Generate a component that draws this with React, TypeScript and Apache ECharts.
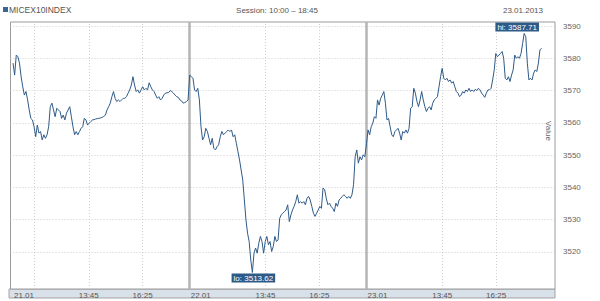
import React, { useEffect, useRef } from "react";
import * as echarts from "echarts";

// ---- data ----
const instrument = "MICEX10INDEX";
const sessionText = "Session: 10:00 – 18:45";
const dateText = "23.01.2013";

// minutes per session (10:00 - 18:45), sessions are drawn back to back
const sessionMinutes = 525;
const lastQuoteMinute = 520;

const day1Values = [
  3578.5, 3574.8, 3581.0, 3580.5, 3578.5, 3574.3, 3571.2, 3568.6, 3569.7, 3567.1,
  3564.0, 3561.4, 3560.9, 3558.8, 3555.7, 3559.3, 3556.8, 3557.3, 3554.7, 3556.3,
  3555.2, 3556.3, 3558.8, 3565.0, 3566.1, 3564.0, 3561.9, 3564.5, 3564.0, 3563.5,
  3561.4, 3562.4, 3560.9, 3563.0, 3564.0, 3565.0, 3561.9, 3558.8, 3556.3, 3557.3,
  3556.3, 3557.3, 3558.3, 3558.8, 3561.4, 3560.9, 3559.3, 3559.9, 3560.4, 3560.9,
  3561.0, 3561.2, 3561.3, 3561.4, 3561.5, 3561.7, 3562.0, 3562.4, 3564.0, 3565.0,
  3566.1, 3568.1, 3569.7, 3567.6, 3566.6, 3567.1, 3566.6, 3567.1, 3567.6, 3567.6,
  3568.1, 3569.2, 3570.2, 3571.7, 3574.3, 3571.7, 3569.7, 3570.2, 3569.2, 3570.2,
  3571.2, 3570.2, 3570.7, 3570.2, 3572.4, 3571.2, 3570.2, 3569.7, 3568.6, 3567.6,
  3568.1, 3567.1, 3567.6, 3568.6, 3569.2, 3569.3, 3569.4, 3570.0, 3569.7, 3569.2,
  3568.6, 3568.1, 3567.9, 3567.1, 3566.8, 3566.1, 3566.3, 3566.6, 3567.1,
];

const day2Values = [
  3574.8, 3574.3, 3573.8, 3570.2, 3569.7, 3570.7, 3567.1, 3558.8, 3554.7, 3555.7,
  3558.3, 3557.3, 3555.2, 3553.2, 3555.2, 3552.1, 3551.6, 3552.6, 3553.2, 3555.7,
  3557.3, 3556.3, 3556.8, 3557.3, 3557.8, 3557.3, 3557.8, 3555.7, 3556.3, 3553.7,
  3551.1, 3548.5, 3545.4, 3542.3, 3536.1, 3529.9, 3525.8, 3523.2, 3517.5, 3513.62,
  3519.6, 3521.2, 3519.6, 3522.7, 3524.8, 3523.2, 3519.6, 3523.2, 3524.8, 3522.2,
  3523.2, 3520.1, 3521.7, 3524.8, 3523.2, 3523.7, 3530.4, 3531.5, 3532.0, 3532.5,
  3533.0, 3534.6, 3529.4, 3531.5, 3533.0, 3534.1, 3535.6, 3537.7, 3535.1, 3535.6,
  3535.1, 3535.6, 3534.6, 3536.6, 3537.2, 3536.1, 3534.1, 3532.0, 3531.0, 3532.0,
  3533.0, 3534.1, 3533.5, 3539.8, 3539.3, 3536.6, 3534.6, 3535.1, 3534.1, 3533.5,
  3532.5, 3535.1, 3534.1, 3536.1, 3536.6, 3537.2, 3537.7, 3537.2, 3536.6, 3537.2,
  3536.6, 3537.7, 3540.8, 3549.5, 3551.6, 3547.5, 3549.5, 3548.5, 3550.1, 3549.5,
];

const day3Values = [
  3553.5, 3557.8, 3556.3, 3558.8, 3559.9, 3561.9, 3561.4, 3567.1, 3565.5, 3567.6,
  3568.6, 3569.7, 3566.1, 3560.9, 3561.4, 3558.8, 3556.3, 3555.7, 3557.3, 3557.8,
  3558.3, 3556.8, 3554.7, 3557.3, 3556.8, 3557.8, 3556.8, 3558.3, 3564.5, 3565.0,
  3570.7, 3569.2, 3566.6, 3565.0, 3567.1, 3569.7, 3567.1, 3565.0, 3563.5, 3564.5,
  3565.0, 3564.0, 3566.1, 3567.1, 3567.6, 3568.1, 3571.2, 3574.3, 3576.9, 3573.8,
  3573.3, 3573.8, 3572.8, 3573.3, 3572.3, 3572.8, 3571.2, 3569.7, 3569.2, 3568.1,
  3568.6, 3569.7, 3569.2, 3570.2, 3569.7, 3570.7, 3569.7, 3570.2, 3569.7, 3570.4,
  3570.0, 3570.7, 3570.2, 3569.2, 3568.6, 3567.9, 3569.2, 3570.2, 3570.2, 3570.7,
  3573.3, 3576.4, 3581.5, 3580.5, 3581.0, 3581.5, 3582.1, 3580.0, 3573.8, 3573.3,
  3574.3, 3572.8, 3574.8, 3576.4, 3581.0, 3580.0, 3580.5, 3580.0, 3581.5, 3584.6,
  3587.71, 3586.7, 3578.5, 3573.3, 3573.8, 3573.3, 3575.4, 3576.4, 3575.9, 3578.5,
  3582.6, 3583.1,
];

const days = [day1Values, day2Values, day3Values];

// x tick positions (session minutes) and their labels
const tickTimes = [0, 225, 385, 525, 750, 910, 1050, 1275, 1435];
const tickLabels = ["21.01", "13:45", "16:25", "22.01", "13:45", "16:25", "23.01", "13:45", "16:25"];
const dateTicks = ["21.01", "22.01", "23.01"];
// dotted vertical grid lines and session separators (session minutes)
const gridTimes = [64, 225, 385, 750, 910, 1275, 1435];
const separatorTimes = [525, 1050];
// y ticks
const yTicks = [3520, 3530, 3540, 3550, 3560, 3570, 3580, 3590];

const FONT = "Liberation Sans, Arial, sans-serif";
const LINE_COLOR = "#2e5a88";

export default function App() {
  const ref = useRef<HTMLDivElement>(null);

  useEffect(() => {
    if (!ref.current) return;
    const chart = echarts.init(ref.current, undefined, { renderer: "svg" });

    const data: number[][] = [];
    days.forEach((vals, d) => {
      const n = vals.length;
      vals.forEach((v, i) => {
        data.push([d * sessionMinutes + (i * lastQuoteMinute) / (n - 1), v]);
      });
    });

    const markLines: any[] = [];
    yTicks.forEach((v) =>
      markLines.push({ yAxis: v, lineStyle: { color: "#cfcfcf", type: [1, 2], width: 1 } })
    );
    gridTimes.forEach((t) =>
      markLines.push({ xAxis: t, lineStyle: { color: "#cfcfcf", type: [1, 2], width: 1 } })
    );
    separatorTimes.forEach((t) =>
      markLines.push({ xAxis: t, lineStyle: { color: "#b5b5b5", type: "solid", width: 2.5 } })
    );

    const option: any = {
      animation: false,
      backgroundColor: "#fff",
      textStyle: { fontFamily: FONT },
      grid: {
        left: 9,
        right: 45,
        top: 22,
        bottom: 12,
        show: true,
        borderColor: "#9a9a9a",
        borderWidth: 1,
        backgroundColor: "#fff",
      },
      xAxis: {
        type: "value",
        min: -7.4,
        max: 1610,
        axisLine: { show: false },
        axisTick: { show: false },
        splitLine: { show: false },
        axisLabel: {
          customValues: tickTimes,
          margin: 2,
          fontSize: 8,
          color: "#555",
          fontFamily: FONT,
          formatter: (v: number) => {
            const i = tickTimes.findIndex((t) => Math.abs(t - v) < 0.5);
            const s = i >= 0 ? tickLabels[i] : "";
            return dateTicks.includes(s) ? "{gap|}{txt|" + s + "}" : s;
          },
          rich: {
            gap: { width: 22, height: 8 },
            txt: { fontSize: 8, color: "#555", fontFamily: FONT },
          },
        },
      },
      yAxis: {
        type: "value",
        position: "right",
        min: 3508.5,
        max: 3591.25,
        axisLine: { show: false },
        axisTick: { show: false },
        splitLine: { show: false },
        axisLabel: {
          customValues: yTicks,
          margin: 8,
          fontSize: 8,
          color: "#666",
          fontFamily: FONT,
          formatter: (v: number) => String(v),
        },
      },
      graphic: [
        {
          type: "rect",
          z: -1,
          shape: { x: 9, y: 289, width: 546, height: 9 },
          style: { fill: "#d8e0e9", stroke: "#a3a3a3", lineWidth: 1 },
        },
        {
          type: "rect",
          shape: { x: 3, y: 7, width: 5, height: 5 },
          style: { fill: "#3a6592" },
        },
        {
          type: "text",
          x: 9,
          y: 10,
          style: {
            text: instrument,
            fontSize: 8.5,
            fontFamily: FONT,
            fill: "#555",
            verticalAlign: "middle",
            align: "left",
          },
        },
        {
          type: "text",
          x: 277,
          y: 10,
          style: {
            text: sessionText,
            fontSize: 8,
            fontFamily: FONT,
            fill: "#555",
            verticalAlign: "middle",
            align: "center",
          },
        },
        {
          type: "text",
          x: 543,
          y: 10,
          style: {
            text: dateText,
            fontSize: 8,
            fontFamily: FONT,
            fill: "#555",
            verticalAlign: "middle",
            align: "right",
          },
        },
        {
          type: "text",
          x: 548,
          y: 131,
          rotation: -Math.PI / 2,
          style: {
            text: "Value",
            fontSize: 8,
            fontFamily: FONT,
            fill: "#666",
            verticalAlign: "middle",
            align: "center",
          },
        },
      ],
      series: [
        {
          type: "line",
          data,
          showSymbol: false,
          symbol: "none",
          lineStyle: { color: LINE_COLOR, width: 1 },
          itemStyle: { color: LINE_COLOR },
          markLine: {
            silent: true,
            symbol: ["none", "none"],
            label: { show: false },
            z: 1,
            data: markLines,
          },
          markPoint: {
            symbol: "circle",
            symbolSize: 0,
            silent: true,
            data: [
              {
                type: "max",
                valueDim: "y",
                label: {
                  show: true,
                  position: "top",
                  distance: 2,
                  offset: [-7, 0],
                  formatter: (p: any) => "hi: " + p.value,
                  backgroundColor: LINE_COLOR,
                  color: "#fff",
                  fontSize: 8,
                  fontFamily: FONT,
                  padding: [1, 2, 0, 2],
                },
              },
              {
                type: "min",
                valueDim: "y",
                label: {
                  show: true,
                  position: "bottom",
                  distance: 1,
                  offset: [1, 0],
                  formatter: (p: any) => "lo: " + p.value,
                  backgroundColor: LINE_COLOR,
                  color: "#fff",
                  fontSize: 8,
                  fontFamily: FONT,
                  padding: [1, 2, 0, 2],
                },
              },
            ],
          },
        },
      ],
    };

    chart.setOption(option);
    return () => chart.dispose();
  }, []);

  return (
    <div
      ref={ref}
      style={{ position: "fixed", left: 0, top: 0, width: 600, height: 301 }}
    />
  );
}
